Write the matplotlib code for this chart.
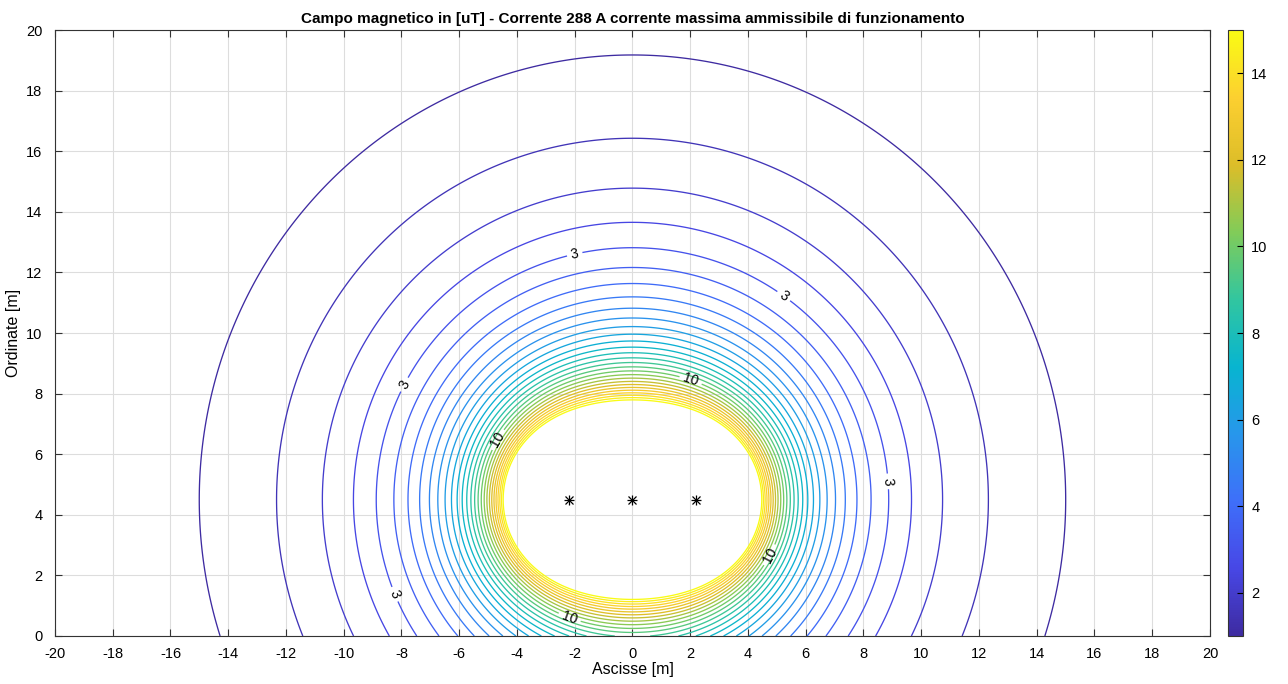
import numpy as np
import matplotlib.pyplot as plt
from matplotlib.colors import LinearSegmentedColormap, Normalize
from matplotlib.cm import ScalarMappable

plt.rcParams['font.family'] = ['Liberation Sans', 'DejaVu Sans']
plt.rcParams['axes.unicode_minus'] = False

# conductors (three-phase, flat arrangement)
cond_x = [-2.2, 0.0, 2.2]
cond_y = [4.5, 4.5, 4.5]
phase_deg = [0, -120, 120]
current = 288.0  # A
levels = np.arange(1, 15.01, 0.5)
label_levels = [3.0, 10.0]

# grid of the plotted area
xg = np.linspace(-20, 20, 801)
yg = np.linspace(0, 20, 401)
X, Y = np.meshgrid(xg, yg)

# Biot-Savart for infinite straight conductors, field in uT
Bx = np.zeros_like(X, dtype=complex)
By = np.zeros_like(X, dtype=complex)
for xc, yc, ph in zip(cond_x, cond_y, phase_deg):
    I = current * np.exp(1j * np.deg2rad(ph))
    dx, dy = X - xc, Y - yc
    r2 = dx**2 + dy**2
    r2[r2 == 0] = 1e-9
    k = 2e-7 * I / r2 * 1e6
    Bx += -k * dy
    By += k * dx
B = np.sqrt(np.abs(Bx)**2 + np.abs(By)**2)

parula = LinearSegmentedColormap.from_list('parula', [
    (0.2422, 0.1704, 0.6303), (0.2803, 0.2782, 0.9021), (0.2440, 0.4358, 0.9788),
    (0.1540, 0.5902, 0.9218), (0.0297, 0.7082, 0.8163), (0.1938, 0.7758, 0.6251),
    (0.5044, 0.7993, 0.3480), (0.8634, 0.7406, 0.1596), (0.9892, 0.8136, 0.1885),
    (0.9769, 0.9839, 0.0805)])
norm = Normalize(1, 15)

fig = plt.figure(figsize=(12.88, 6.84), dpi=100)
ax = fig.add_axes([0.0427, 0.0702, 0.8967, 0.8858])
cax = fig.add_axes([0.9534, 0.0702, 0.0116, 0.8858])

other = [l for l in levels if l not in label_levels]
ax.contour(X, Y, B, levels=other, cmap=parula, norm=norm, linewidths=0.95)
cs = ax.contour(X, Y, B, levels=label_levels, cmap=parula, norm=norm, linewidths=0.95)
# label anchor points (layout only)
label_pos = [(-2, 12.6), (5.3, 11.3), (-7.9, 8.3), (8.8, 5.1), (-8.3, 1.35),
             (-4.7, 6.5), (2.0, 8.4), (4.7, 2.7), (-2.2, 0.55)]
ax.clabel(cs, manual=label_pos, inline=True, inline_spacing=4, fontsize=10,
          colors='black', fmt='%g')
ax.plot(cond_x, cond_y, '+', color='black', markersize=7, markeredgewidth=0.9)
ax.plot(cond_x, cond_y, 'x', color='black', markersize=5.5, markeredgewidth=0.9)

ax.set_xlim(-20, 20)
ax.set_ylim(0, 20)
ax.set_xticks(np.arange(-20, 21, 2))
ax.set_yticks(np.arange(0, 21, 2))
ax.grid(True, color='#dddddd', linewidth=0.8)
ax.set_axisbelow(True)
ax.tick_params(direction='in', top=True, right=True, labelsize=10.5, length=5, color='#333333')
ax.tick_params(axis='x', pad=8)
ax.tick_params(axis='y', pad=9)
for s in ax.spines.values():
    s.set_color('#333333')
ax.set_xlabel('Ascisse [m]', fontsize=11.5, labelpad=1)
ax.set_ylabel('Ordinate [m]', fontsize=11.5, labelpad=4)
ax.set_title('Campo magnetico in [uT] - Corrente 288 A corrente massima ammissibile di funzionamento',
             fontsize=11, fontweight='bold', pad=5)

cb = fig.colorbar(ScalarMappable(norm=norm, cmap=parula), cax=cax)
cb.set_ticks(np.arange(2, 15, 2))
cb.ax.tick_params(direction='in', labelsize=10.5, length=4, pad=6)
cb.outline.set_edgecolor('#333333')

fig.savefig('out.png', dpi=100)
